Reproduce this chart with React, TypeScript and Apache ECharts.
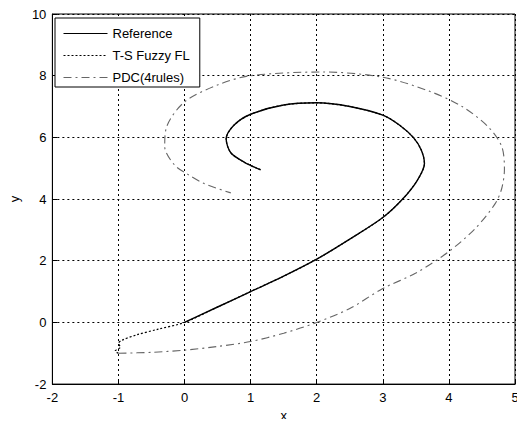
import React, { useEffect, useRef } from "react";
import * as echarts from "echarts";

const xTicks = [-2, -1, 0, 1, 2, 3, 4, 5];
const yTicks = [-2, 0, 2, 4, 6, 8, 10];

const referenceData: [number, number][] = [
  [0, 0], [0.5, 0.5], [1, 1.0], [1.5, 1.5], [2, 2.05], [2.5, 2.7], [3, 3.4],
  [3.3, 4.0], [3.52, 4.6], [3.63, 5.15], [3.58, 5.6], [3.46, 6.0], [3.25, 6.4],
  [3.0, 6.72], [2.5, 7.0], [2.0, 7.12], [1.5, 7.05], [1.0, 6.75], [0.75, 6.4],
  [0.63, 5.95], [0.7, 5.5], [0.9, 5.2], [1.15, 4.95],
];

const tsFuzzyData: [number, number][] = [
  [-1, -1], [-1.05, -0.93], [-0.97, -0.8], [-1.0, -0.68], [-0.95, -0.58],
  [-0.72, -0.4], [-0.4, -0.22], [0, 0], [0.5, 0.5], [1, 1.0], [1.5, 1.5],
  [2, 2.05], [2.5, 2.7], [3, 3.4], [3.3, 4.0], [3.52, 4.6], [3.63, 5.15],
  [3.58, 5.6], [3.46, 6.0], [3.25, 6.4], [3.0, 6.72], [2.5, 7.0], [2.0, 7.12],
  [1.5, 7.05], [1.0, 6.75], [0.75, 6.4], [0.63, 5.95], [0.7, 5.5], [0.9, 5.2],
  [1.15, 4.95],
];

const pdcData: [number, number][] = [
  [-1, -1], [-0.5, -0.97], [0, -0.9], [0.5, -0.78], [1, -0.62], [1.5, -0.35],
  [2, 0], [2.5, 0.45], [3, 1.1], [3.5, 1.6], [4, 2.3], [4.4, 3.05], [4.7, 3.85],
  [4.8, 4.35], [4.84, 4.97], [4.8, 5.7], [4.6, 6.33], [4.2, 7.0], [3.7, 7.5],
  [3.0, 7.95], [2.1, 8.12], [1.0, 8.0], [0.5, 7.7], [0.0, 7.15], [-0.27, 6.35],
  [-0.3, 5.7], [-0.15, 5.1], [0.05, 4.8], [0.3, 4.5], [0.7, 4.2],
];

const seriesNames = ["Reference", "T-S Fuzzy FL", "PDC(4rules)"];

export default function App() {
  const ref = useRef<HTMLDivElement>(null);
  useEffect(() => {
    if (!ref.current) return;
    const chart = echarts.init(ref.current, null, { renderer: "svg" });
    const font = "Liberation Sans, Arial, sans-serif";
    chart.setOption({
      animation: false,
      backgroundColor: "#fff",
      textStyle: { fontFamily: font },
      grid: {
        left: 47, right: 10, top: 14, bottom: 34,
        show: true, borderColor: "#000", borderWidth: 1,
      },
      legend: {
        left: 55, top: 18,
        orient: "vertical",
        itemWidth: 44, itemHeight: 10, itemGap: 9,
        padding: [9, 10, 3, 8],
        borderColor: "#000", borderWidth: 1,
        backgroundColor: "#fff",
        itemStyle: { opacity: 0 },
        lineStyle: { width: 1 },
        textStyle: { fontSize: 13, color: "#000", fontFamily: font },
        data: seriesNames,
      },
      xAxis: {
        type: "value", min: -2, max: 5, interval: 1,
        name: "x", nameLocation: "middle", nameGap: 22,
        nameTextStyle: { fontSize: 13, color: "#000", fontFamily: font },
        axisLine: { show: true, onZero: false, lineStyle: { color: "#000" } },
        axisTick: { show: true, inside: true, length: 5, lineStyle: { color: "#000" } },
        axisLabel: {
          color: "#000", fontSize: 13, margin: 7, fontFamily: font,
          formatter: (v: number) => (xTicks.includes(v) ? String(v) : ""),
        },
        splitLine: { show: true, lineStyle: { color: "#000", type: [2, 3], width: 1 } },
      },
      yAxis: {
        type: "value", min: -2, max: 10, interval: 2,
        name: "y", nameLocation: "middle", nameGap: 31,
        nameTextStyle: { fontSize: 13, color: "#000", fontFamily: font },
        axisLine: { show: true, onZero: false, lineStyle: { color: "#000" } },
        axisTick: { show: true, inside: true, length: 5, lineStyle: { color: "#000" } },
        axisLabel: {
          color: "#000", fontSize: 13, margin: 6, fontFamily: font,
          formatter: (v: number) => (yTicks.includes(v) ? String(v) : ""),
        },
        splitLine: { show: true, lineStyle: { color: "#000", type: [2, 3], width: 1 } },
      },
      series: [
        {
          name: seriesNames[0], type: "line", data: referenceData,
          symbol: "none", smooth: 0.3,
          lineStyle: { color: "#000", width: 1.4, type: "solid" },
          itemStyle: { color: "#000" },
        },
        {
          name: seriesNames[1], type: "line", data: tsFuzzyData,
          symbol: "none", smooth: 0.3,
          lineStyle: { color: "#000", width: 1.2, type: [2, 2] },
          itemStyle: { color: "#000" },
        },
        {
          name: seriesNames[2], type: "line", data: pdcData,
          symbol: "none", smooth: 0.3,
          lineStyle: { color: "#666", width: 1.1, type: [8, 4, 2, 4] },
          itemStyle: { color: "#666" },
        },
      ],
    });
    return () => chart.dispose();
  }, []);
  return <div ref={ref} style={{ width: 525, height: 427, margin: -8 }} />;
}
